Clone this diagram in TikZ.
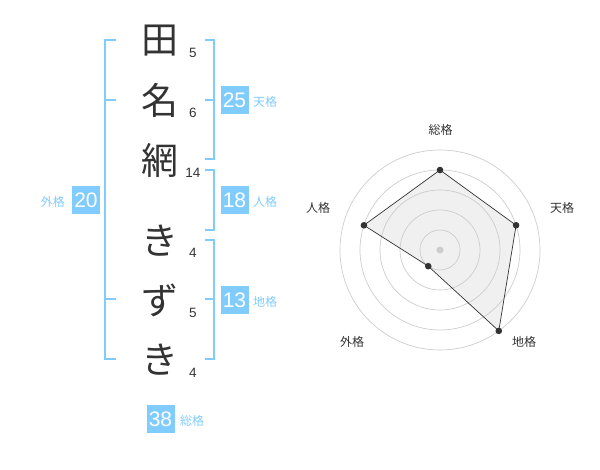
\documentclass[tikz,border=0pt]{standalone}
\usepackage{fontspec}
\setmainfont{Liberation Sans}
\newfontfamily\jpfont{Noto Sans CJK JP}
\definecolor{kakublue}{RGB}{128,204,255}
\definecolor{inkgray}{RGB}{51,51,51}
\definecolor{ringgray}{RGB}{205,205,205}
\definecolor{areagray}{RGB}{240,240,240}

\tikzset{
  kanji/.style={font=\jpfont\fontsize{37}{37}\selectfont, text=inkgray, inner sep=0pt},
  strokes/.style={font=\fontsize{13.5}{13.5}\selectfont, text=inkgray, inner sep=0pt},
  bracket/.style={kakublue, line width=1.8pt},
  kakubox/.style={fill=kakublue, text=white, minimum size=28pt, inner sep=0pt, font=\fontsize{21}{21}\selectfont},
  kakuname/.style={text=kakublue, font=\jpfont\fontsize{12}{12}\selectfont, inner sep=0pt},
  axisname/.style={text=inkgray, font=\jpfont\fontsize{12}{12}\selectfont, inner sep=0pt},
}

\begin{document}
\begin{tikzpicture}[x=1pt,y=-1pt]
\useasboundingbox (0,0) rectangle (600,470);

% name, one character per line
\node[kanji] (c1) at (160,41) {田};
\node[kanji] (c2) at (160,100) {名};
\node[kanji] (c3) at (160,160) {網};
\node[kanji] (c4) at (160,241) {き};
\node[kanji] (c5) at (160,300) {ず};
\node[kanji] (c6) at (160,360) {き};

% stroke counts
\node[strokes] (n1) at (193,53) {5};
\node[strokes] (n2) at (193,113) {6};
\node[strokes] (n3) at (193,173) {14};
\node[strokes] (n4) at (193,253) {4};
\node[strokes] (n5) at (193,313) {5};
\node[strokes] (n6) at (193,373) {4};

% brackets
\draw[bracket] (116,40) -- (105,40) -- (105,359) -- (116,359);
\draw[bracket] (105,100) -- (116,100);
\draw[bracket] (105,299) -- (116,299);
\draw[bracket] (205,40) -- (214,40) -- (214,159) -- (205,159);
\draw[bracket] (205,100) -- (214,100);
\draw[bracket] (205,170) -- (214,170) -- (214,230) -- (205,230);
\draw[bracket] (205,240) -- (214,240) -- (214,359) -- (205,359);
\draw[bracket] (205,299) -- (214,299);

% kaku values
\node[kakubox] (ten) at (234.5,100) {25};
\node[kakuname, anchor=west] at (253,102) {天格};
\node[kakubox] (jin) at (234.5,200) {18};
\node[kakuname, anchor=west] at (253,202) {人格};
\node[kakubox] (chi) at (234.5,300) {13};
\node[kakuname, anchor=west] at (253,302) {地格};
\node[kakubox] (gai) at (86,200) {20};
\node[kakuname, anchor=east] at (65,202) {外格};
\node[kakubox] (sou) at (160.5,419) {38};
\node[kakuname, anchor=west] at (180,421) {総格};

% radar chart
\begin{scope}[shift={(440,250)}, yscale=-1]
\coordinate (rs) at (90:80);
\coordinate (rt) at (18:80);
\coordinate (rc) at (-54:100);
\coordinate (rg) at (-126:20);
\coordinate (rj) at (162:80);
\fill[areagray] (rs) -- (rt) -- (rc) -- (rg) -- (rj) -- cycle;
\foreach \r in {20,40,...,100}
  \draw[ringgray, line width=0.7pt] (0,0) circle (\r);
\fill[ringgray] (0,0) circle (3.5);
\draw[inkgray, line width=0.7pt] (rs) -- (rt) -- (rc) -- (rg) -- (rj) -- cycle;
\foreach \p in {rs,rt,rc,rg,rj}
  \fill[inkgray] (\p) circle (3.3);
\end{scope}
\node[axisname] (as) at (440.5,130) {総格};
\node[axisname] (at) at (562,208) {天格};
\node[axisname] (ac) at (524,342) {地格};
\node[axisname] (ag) at (352,342) {外格};
\node[axisname] (aj) at (318,208) {人格};
\end{tikzpicture}
\end{document}
